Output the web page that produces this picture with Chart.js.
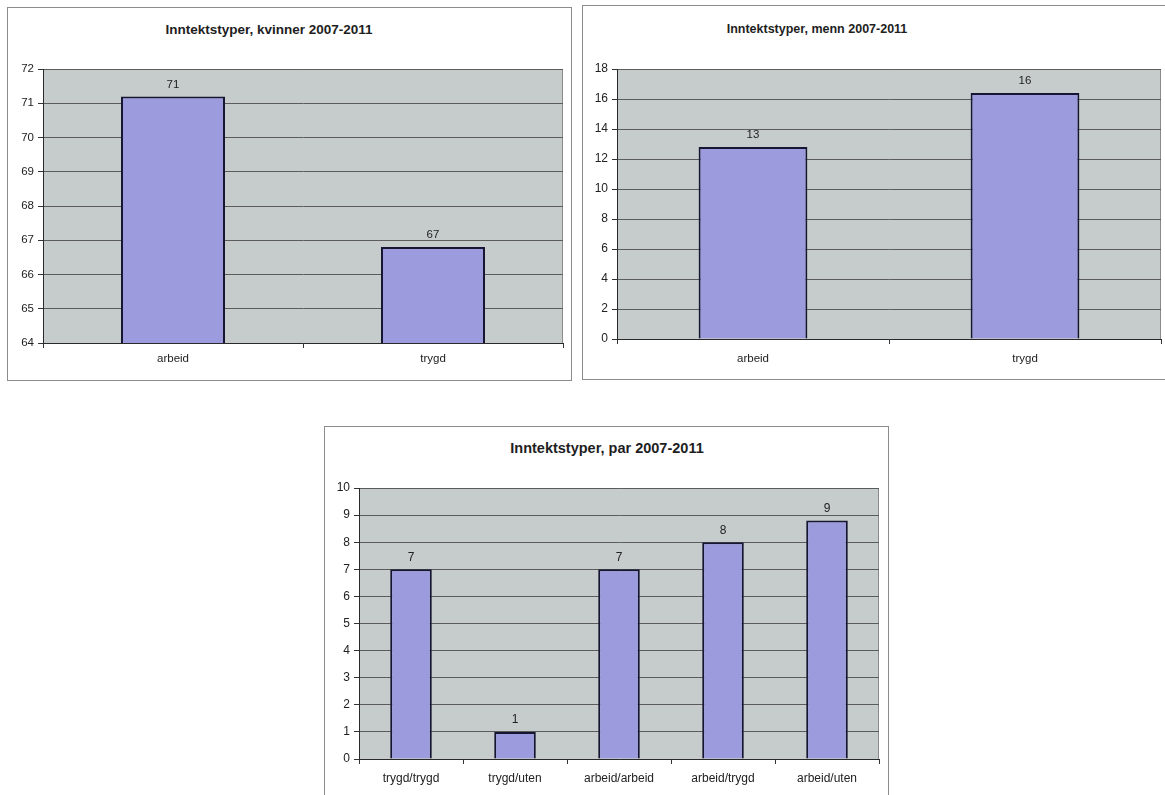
<!DOCTYPE html>
<html lang="no">
<head>
<meta charset="utf-8">
<title>Inntektstyper 2007-2011</title>
<script src="https://cdn.jsdelivr.net/npm/chart.js@4.4.1/dist/chart.umd.min.js"></script>
<style>
  html, body { margin: 0; padding: 0; background: #ffffff; }
  body { width: 1165px; height: 795px; position: relative; overflow: hidden;
         font-family: "Liberation Sans", Arial, sans-serif; }
  .ramme { position: absolute; box-sizing: border-box; border: 1px solid #8c8c8c; background: #fff; }
  canvas { position: absolute; }
  .tittel { position: absolute; width: 400px; text-align: center; font-weight: bold;
            color: #1e1e1e; line-height: 1; white-space: nowrap; }
</style>
</head>
<body>
<div class="ramme" style="left:7px;top:7px;width:565px;height:374px"></div>
<div class="ramme" style="left:582px;top:5px;width:600px;height:375px"></div>
<div class="ramme" style="left:324px;top:426px;width:565px;height:400px"></div>

<div class="tittel" style="left:69px;top:23px;font-size:13.5px">Inntektstyper, kvinner 2007-2011</div>
<div class="tittel" style="left:617px;top:23px;font-size:12.5px">Inntektstyper, menn 2007-2011</div>
<div class="tittel" style="left:407px;top:441px;font-size:14.5px">Inntektstyper, par 2007-2011</div>

<canvas id="kvinner" width="565" height="374" style="left:7px;top:7px"></canvas>
<canvas id="menn" width="583" height="375" style="left:582px;top:5px"></canvas>
<canvas id="par" width="564" height="369" style="left:324px;top:426px"></canvas>

<script>
// Kategorier og verdier (prosent) for hver figur
const kvinnerKategorier = ['arbeid', 'trygd'];
const kvinnerVerdier = [71.2, 66.8];
const kvinnerAkse = [64, 72, 1];      // min, maks, steg

const mennKategorier = ['arbeid', 'trygd'];
const mennVerdier = [12.8, 16.4];
const mennAkse = [0, 18, 2];

const parKategorier = ['trygd/trygd', 'trygd/uten', 'arbeid/arbeid', 'arbeid/trygd', 'arbeid/uten'];
const parVerdier = [7, 1, 7, 8, 8.8];
const parAkse = [0, 10, 1];

const FONT = '"Liberation Sans", Arial, sans-serif';
const TEKST = '#222222';

// Grå bakgrunn og ramme rundt plottområdet
const plotBakgrunn = {
  id: 'plotBakgrunn',
  beforeDraw(chart) {
    const { ctx, chartArea: { left, top, right, bottom } } = chart;
    ctx.save();
    ctx.fillStyle = '#c6cccb';
    ctx.fillRect(left, top, right - left, bottom - top);
    ctx.strokeStyle = '#8a8a8a';
    ctx.lineWidth = 1;
    ctx.strokeRect(left + 0.5, top + 0.5, right - left - 1, bottom - top);
    ctx.restore();
  }
};

// Verdien skrevet over hver søyle (avrundet til hele tall)
const verdiEtiketter = {
  id: 'verdiEtiketter',
  afterDatasetsDraw(chart, args, opts) {
    const { ctx } = chart;
    const meta = chart.getDatasetMeta(0);
    const data = chart.data.datasets[0].data;
    ctx.save();
    ctx.font = `${opts.size}px ${FONT}`;
    ctx.fillStyle = TEKST;
    ctx.textAlign = 'center';
    ctx.textBaseline = 'middle';
    meta.data.forEach((bar, i) => {
      ctx.fillText(String(Math.round(data[i])), bar.x, bar.y - 12);
    });
    ctx.restore();
  }
};

function lagFigur(id, kategorier, verdier, akse, oppsett) {
  const [min, maks, steg] = akse;
  return new Chart(document.getElementById(id), {
    type: 'bar',
    data: {
      labels: kategorier,
      datasets: [{
        data: verdier,
        backgroundColor: '#9b9bde',
        borderColor: '#161632',
        borderWidth: 2,
        borderSkipped: 'bottom',
        categoryPercentage: 0.4,
        barPercentage: 1.0
      }]
    },
    options: {
      responsive: false,
      animation: false,
      devicePixelRatio: 1,
      layout: { padding: oppsett.padding },
      plugins: {
        legend: { display: false },
        tooltip: { enabled: false },
        title: { display: false },
        verdiEtiketter: { size: oppsett.verdiFont }
      },
      scales: {
        x: {
          offset: true,
          grid: { drawOnChartArea: false, offset: true, tickLength: 5, tickColor: '#333333' },
          border: { color: '#2a2a2a', width: 1 },
          ticks: { color: TEKST, padding: oppsett.xPadding, maxRotation: 0,
                   font: { family: FONT, size: oppsett.xFont } },
          afterFit(s) { s.height = 30; }
        },
        y: {
          min: min, max: maks,
          grid: { color: '#5c5c5c', lineWidth: 1, tickLength: 5, tickColor: '#333333' },
          border: { color: '#2a2a2a', width: 1 },
          ticks: { stepSize: steg, color: TEKST, padding: 4,
                   font: { family: FONT, size: oppsett.yFont } },
          afterFit(s) { s.width = oppsett.yBredde; }
        }
      }
    },
    plugins: [plotBakgrunn, verdiEtiketter]
  });
}

lagFigur('kvinner', kvinnerKategorier, kvinnerVerdier, kvinnerAkse, {
  padding: { left: 0, top: 62, right: 9, bottom: 8 },
  yBredde: 36, xPadding: 4, xFont: 11.5, yFont: 11.5, verdiFont: 11.5
});

lagFigur('menn', mennKategorier, mennVerdier, mennAkse, {
  padding: { left: 0, top: 64, right: 4, bottom: 11 },
  yBredde: 35, xPadding: 8, xFont: 11.5, yFont: 12, verdiFont: 11.5
});

lagFigur('par', parKategorier, parVerdier, parAkse, {
  padding: { left: 0, top: 62, right: 9, bottom: 6 },
  yBredde: 35, xPadding: 7, xFont: 12, yFont: 12, verdiFont: 12
});
</script>
</body>
</html>
